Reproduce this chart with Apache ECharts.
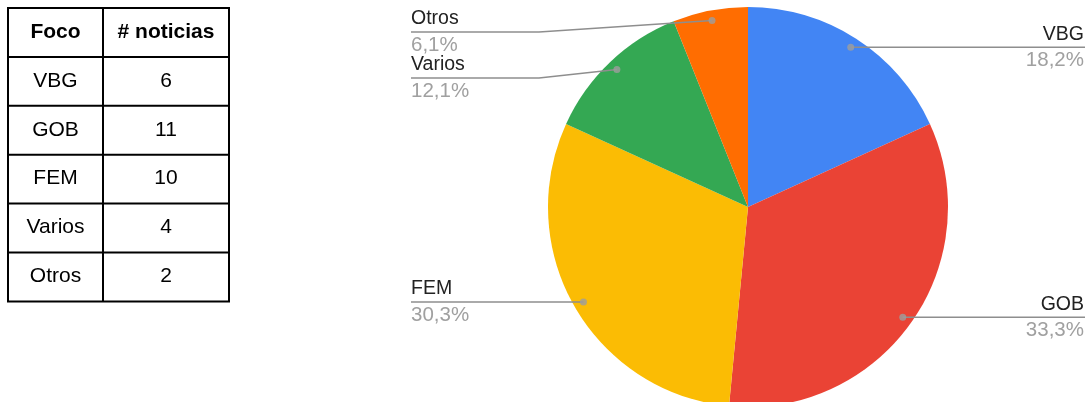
<!DOCTYPE html>
<html>
<head>
<meta charset="utf-8">
<script src="https://cdn.jsdelivr.net/npm/echarts@6/dist/echarts.min.js"></script>
<style>
html, body { margin: 0; padding: 0; background: #fff; }
#chart { width: 1086px; height: 402px; }
</style>
</head>
<body>
<div id="chart"></div>
<script>
// datos
const cabecera = ['Foco', '# noticias'];
const focos = ['VBG', 'GOB', 'FEM', 'Varios', 'Otros'];
const noticias = [6, 11, 10, 4, 2];
const colores = ['#4285f4', '#ea4335', '#fbbc04', '#34a853', '#ff6d01'];

const fuente = '"Liberation Sans", Arial, sans-serif';
const total = noticias.reduce((a, b) => a + b, 0);
const centro = [748, 207];
const radio = 200;
const radioPunto = 0.95; // los puntos de las guías van un poco dentro de la porción

// mitad de cada porción, en unidades de datos
const mitades = [];
let acum = 0;
noticias.forEach(v => { mitades.push(acum + v / 2); acum += v; });

function punto(i) {
  const ang = (90 - mitades[i] / total * 360) * Math.PI / 180;
  return [centro[0] + radio * radioPunto * Math.cos(ang),
          centro[1] - radio * radioPunto * Math.sin(ang)];
}

// altura de la guía de cada etiqueta: se empujan hacia abajo si se pisan
const lineaY = [];
[true, false].forEach(izq => {
  const idx = focos.map((_, i) => i)
    .filter(i => (punto(i)[0] < centro[0]) === izq)
    .sort((a, b) => punto(a)[1] - punto(b)[1]);
  let prev = -Infinity;
  idx.forEach(i => {
    const y = Math.max(punto(i)[1], prev + 46, 32);
    lineaY[i] = y;
    prev = y;
  });
});

// tabla de la izquierda
const tabla = { x0: 8, x1: 103, x2: 229, y0: 8, fila: 48.9 };
const filas = [cabecera].concat(focos.map((f, i) => [f, String(noticias[i])]));
const graficos = [];
for (let r = 0; r <= filas.length; r++) {
  const y = tabla.y0 + r * tabla.fila;
  graficos.push({ type: 'line', shape: { x1: tabla.x0 - 1, y1: y, x2: tabla.x2 + 1, y2: y },
    style: { stroke: '#000', lineWidth: 2 } });
}
[tabla.x0, tabla.x1, tabla.x2].forEach(x => {
  graficos.push({ type: 'line', shape: { x1: x, y1: tabla.y0, x2: x, y2: tabla.y0 + filas.length * tabla.fila },
    style: { stroke: '#000', lineWidth: 2 } });
});
filas.forEach((fila, r) => {
  const y = tabla.y0 + (r + 0.5) * tabla.fila - 0.5;
  [(tabla.x0 + tabla.x1) / 2, (tabla.x1 + tabla.x2) / 2].forEach((x, c) => {
    graficos.push({ type: 'text', x: x, y: y,
      style: { text: fila[c], fill: '#000',
        font: (r === 0 ? 'bold ' : '') + '21px ' + fuente,
        textAlign: 'center', textVerticalAlign: 'middle', align: 'center', verticalAlign: 'middle' } });
  });
});

const datosPie = focos.map((f, i) => ({ name: f, value: noticias[i] }));

const chart = echarts.init(document.getElementById('chart'));
chart.setOption({
  animation: false,
  graphic: { elements: graficos },
  polar: { center: centro, radius: radio },
  angleAxis: { type: 'value', min: 0, max: total, startAngle: 90, clockwise: true, show: false,
    axisLine: { show: false }, splitLine: { show: false }, axisLabel: { show: false }, axisTick: { show: false } },
  radiusAxis: { type: 'value', min: 0, max: 1, show: false,
    axisLine: { show: false }, splitLine: { show: false }, axisLabel: { show: false }, axisTick: { show: false } },
  series: [
    // porciones de colores
    {
      type: 'pie',
      z: 2,
      center: centro,
      radius: radio,
      startAngle: 90,
      clockwise: true,
      color: colores,
      itemStyle: { borderWidth: 0 },
      label: { show: false },
      labelLine: { show: false },
      data: datosPie
    },
    // mismo pie, transparente, solo para que las guías queden por encima de las porciones
    {
      type: 'pie',
      z: 3,
      silent: true,
      center: centro,
      radius: radio,
      startAngle: 90,
      clockwise: true,
      itemStyle: { color: 'rgba(0,0,0,0)', borderWidth: 0 },
      data: datosPie,
      label: {
        show: true,
        position: 'outside',
        formatter: p => `{n|${p.name}}\n{p|${p.percent.toFixed(1).replace('.', ',')}%}`,
        rich: {
          n: { fontSize: 19.5, fontFamily: fuente, color: '#222', lineHeight: 26 },
          p: { fontSize: 20.5, fontFamily: fuente, color: '#a0a0a0', lineHeight: 26 }
        }
      },
      labelLine: { show: true, lineStyle: { color: '#8e8e8e', width: 1.5, opacity: 1 } },
      labelLayout: p => {
        const i = p.dataIndex;
        const [px, py] = punto(i);
        const izq = px < centro[0];
        const y = lineaY[i];
        const xBorde = izq ? 411 : 1085;
        const xCodo = izq ? centro[0] - radio - 9 : centro[0] + radio + 9;
        return {
          x: izq ? 411 : 1084,
          y: y,
          align: izq ? 'left' : 'right',
          verticalAlign: 'middle',
          labelLinePoints: [[px, py], [Math.abs(y - py) < 0.5 ? px : xCodo, y], [xBorde, y]]
        };
      }
    },
    {
      type: 'scatter',
      coordinateSystem: 'polar',
      z: 10,
      silent: true,
      symbolSize: 7,
      itemStyle: { color: '#9e9e9e' },
      data: mitades.map(m => [radioPunto, m])
    }
  ]
});
</script>
</body>
</html>
